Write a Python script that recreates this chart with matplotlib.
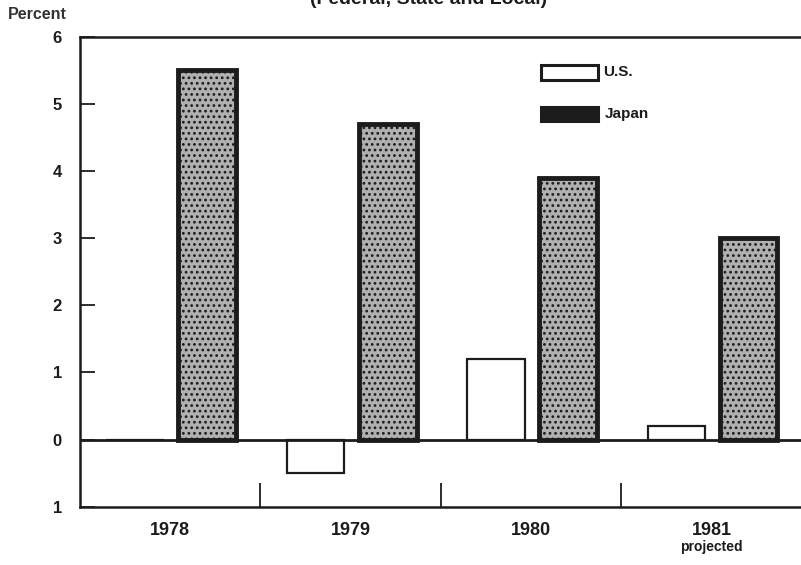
#!/usr/bin/env python3

import matplotlib
matplotlib.use('Agg')
import matplotlib.pyplot as plt
import numpy as np

years = ['1978', '1979', '1980', '1981']
us_values = [0.0, -0.5, 1.2, 0.2]
japan_values = [5.5, 4.7, 3.9, 3.0]
ytick_values = [-1, 0, 1, 2, 3, 4, 5, 6]
ytick_labels = ['1', '0', '1', '2', '3', '4', '5', '6']

plt.rcParams['font.family'] = ['Liberation Sans Narrow', 'Liberation Sans', 'DejaVu Sans']
plt.rcParams['font.weight'] = 'bold'
plt.rcParams['hatch.color'] = '#3a3a3a'
plt.rcParams['hatch.linewidth'] = 1.2

ink = '#1c1c1c'
japan_face = '#b0b0b0'

fig = plt.figure(figsize=(8.01, 5.65), dpi=100)
ax = fig.add_axes([0.0999, 0.103, 0.9011, 0.832])

x = np.arange(len(years))
width = 0.32

# U.S. bars are open boxes, Japan bars are dark-edged shaded boxes
ax.bar(x - 0.195, us_values, width=width, facecolor='white', edgecolor=ink, linewidth=1.6)
ax.bar(x + 0.205, japan_values, width=width, facecolor=japan_face, edgecolor=ink,
       linewidth=3.5, hatch='...')

ax.axhline(0, color=ink, linewidth=2, zorder=4)

ax.set_xlim(-0.5, 3.5)
ax.set_ylim(-1, 6)

for side in ('top', 'left', 'bottom'):
    ax.spines[side].set_linewidth(1.8)
    ax.spines[side].set_color(ink)
ax.spines['right'].set_visible(False)

ax.set_yticks(ytick_values)
ax.set_yticklabels(ytick_labels)
ax.tick_params(axis='y', direction='in', length=11, width=1.3, color=ink, pad=13,
               labelsize=12, labelcolor=ink)

ax.set_xticks([0.5, 1.5, 2.5])
ax.set_xticklabels([])
ax.tick_params(axis='x', direction='in', length=17, width=1.3, color=ink)
for i, yr in enumerate(years):
    ax.text(i, -1.36, yr, ha='center', va='center', fontsize=13, color=ink, clip_on=False)
ax.text(3, -1.6, 'projected', ha='center', va='center', fontsize=10, color=ink, clip_on=False)

# legend drawn as boxes with labels
ax.bar([2.21], [0.22], bottom=5.36, width=0.316, facecolor='white', edgecolor=ink, linewidth=2.2)
ax.bar([2.21], [0.22], bottom=4.74, width=0.316, facecolor=ink, edgecolor=ink, linewidth=2.2)
ax.text(2.40, 5.47, 'U.S.', ha='left', va='center', fontsize=11, color=ink)
ax.text(2.41, 4.85, 'Japan', ha='left', va='center', fontsize=11, color=ink)

fig.text(0.01, 0.975, 'Percent', ha='left', va='center', fontsize=11.5, color='#333333')
fig.text(0.535, 1.0, '(Federal, State and Local)', ha='center', va='center', fontsize=14,
         color=ink)

fig.savefig('out.png', dpi=100, facecolor='white')
